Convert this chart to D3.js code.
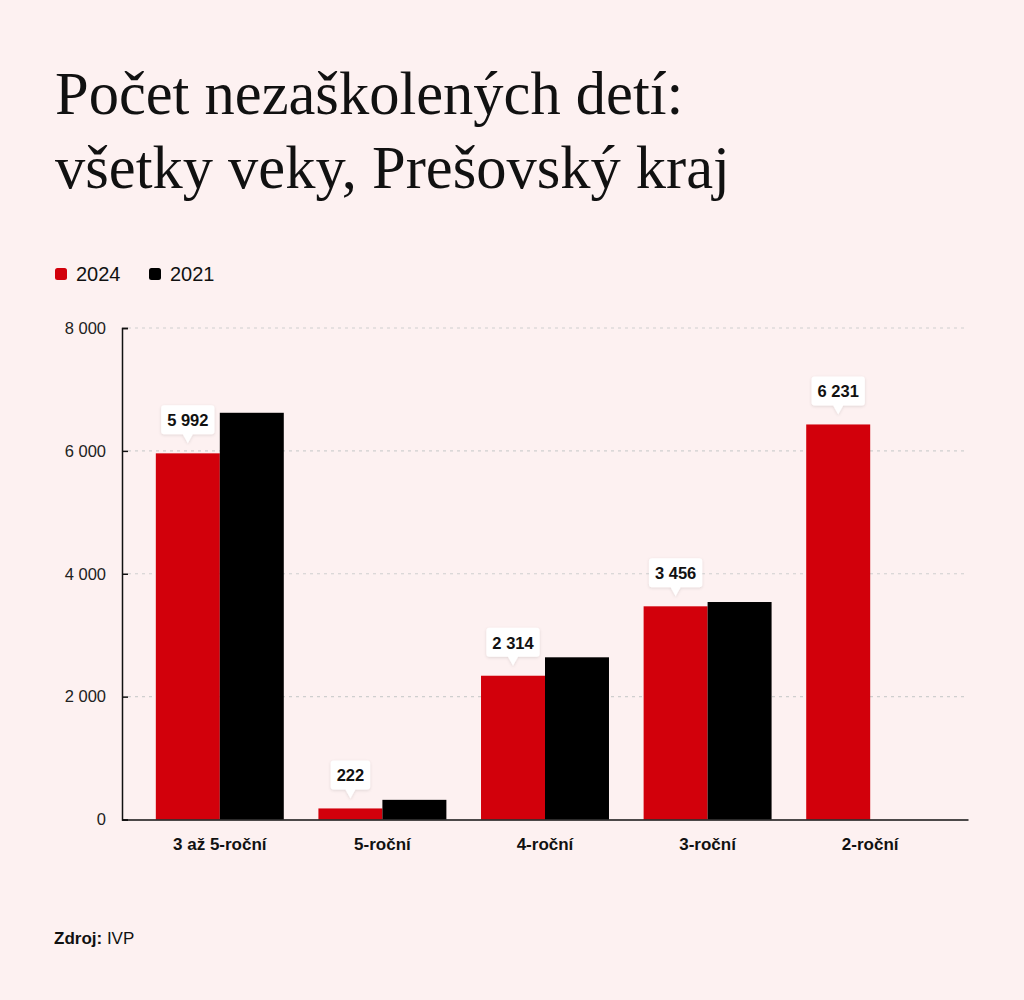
<!DOCTYPE html>
<html>
<head>
<meta charset="utf-8">
<script src="https://cdn.jsdelivr.net/npm/d3@7"></script>
<style>
  html, body { margin: 0; padding: 0; background: #fdf1f1; }
  svg { display: block; }
</style>
</head>
<body>
<svg id="chart" width="1024" height="1000"></svg>
<script>
const categories = ["3 až 5-roční", "5-roční", "4-roční", "3-roční", "2-roční"];
const seriesNames = ["2024", "2021"];
const values2024 = [5960, 180, 2340, 3470, 6430];
const values2021 = [6620, 320, 2640, 3540, null];
const labels2024 = ["5 992", "222", "2 314", "3 456", "6 231"];
const yTicks = [0, 2000, 4000, 6000, 8000];
const colors = { "2024": "#d2000b", "2021": "#000000" };

const svg = d3.select("#chart");
svg.append("rect").attr("width", 1024).attr("height", 1000).attr("fill", "#fdf1f1");

const defs = svg.append("defs");
const f = defs.append("filter").attr("id", "sh").attr("x", "-30%").attr("y", "-30%").attr("width", "160%").attr("height", "160%");
f.append("feDropShadow").attr("dx", 0).attr("dy", 1).attr("stdDeviation", 1.5).attr("flood-color", "#000").attr("flood-opacity", 0.12);

const sans = "'Helvetica Neue', Helvetica, Arial, 'Liberation Sans', sans-serif";

// Title
const title = svg.append("text").attr("font-family", "'Times New Roman', 'Liberation Serif', serif")
  .attr("font-size", 60.5).attr("fill", "#111");
title.append("tspan").attr("x", 55).attr("y", 114).text("Počet nezaškolených detí:");
title.append("tspan").attr("x", 55).attr("y", 188).text("všetky veky, Prešovský kraj");

// Legend
const legend = svg.append("g");
const legX = [55, 149];
seriesNames.forEach((s, i) => {
  legend.append("rect").attr("x", legX[i]).attr("y", 268).attr("width", 12).attr("height", 12)
    .attr("rx", 2.5).attr("fill", colors[s]);
  legend.append("text").attr("x", legX[i] + 21).attr("y", 281).attr("font-family", sans)
    .attr("font-size", 20).attr("fill", "#111").text(s);
});

// Scales
const x0 = d3.scaleBand().domain(categories).range([122, 968]).paddingInner(0.213).paddingOuter(0.208);
const x1 = d3.scaleBand().domain(seriesNames).range([0, x0.bandwidth()]);
const y = d3.scaleLinear().domain([0, 8000]).range([819.5, 328]);

// Grid
svg.append("g").selectAll("line").data(yTicks.filter(d => d > 0)).join("line")
  .attr("x1", 128).attr("x2", 968).attr("y1", d => y(d)).attr("y2", d => y(d))
  .attr("stroke", "#cfcfcf").attr("stroke-width", 1.2).attr("stroke-dasharray", "3,4");

// Bars
const data = categories.map((c, i) => ({ cat: c, vals: [
  { s: "2024", v: values2024[i] }, { s: "2021", v: values2021[i] }] }));

const groups = svg.append("g").selectAll("g").data(data).join("g")
  .attr("transform", d => `translate(${x0(d.cat)},0)`);
groups.selectAll("rect").data(d => d.vals.filter(v => v.v != null)).join("rect")
  .attr("x", d => x1(d.s)).attr("width", x1.bandwidth())
  .attr("y", d => y(d.v)).attr("height", d => y(0) - y(d.v))
  .attr("fill", d => colors[d.s]);

// Y axis
const yAxis = d3.axisLeft(y).tickValues(yTicks).tickSize(-6).tickSizeOuter(-6).tickPadding(16)
  .tickFormat(d => d3.format(",")(d).replace(/,/g, " "));
const ya = svg.append("g").attr("transform", "translate(122,0)").call(yAxis);
ya.select(".domain").attr("stroke", "#111").attr("stroke-width", 1.5);
ya.selectAll(".tick line").attr("stroke", "#111").attr("stroke-width", 1.5);
ya.selectAll(".tick text").attr("font-family", sans).attr("font-size", 16.5).attr("fill", "#222");

// X axis
const xAxis = d3.axisBottom(x0).tickSize(0).tickPadding(18);
const xa = svg.append("g").attr("transform", `translate(0,${y(0)})`).call(xAxis);
xa.select(".domain").attr("stroke", "#111").attr("stroke-width", 1.6);
xa.selectAll(".tick text").attr("font-family", sans).attr("font-size", 17)
  .attr("font-weight", "bold").attr("fill", "#111");

// Value labels for 2024
const lab = svg.append("g").selectAll("g").data(categories.map((c, i) => ({ c, v: values2024[i], t: labels2024[i] })))
  .join("g")
  .attr("transform", d => `translate(${x0(d.c) + x1("2024") + x1.bandwidth() / 2},${y(d.v) - 10})`);
lab.each(function(d) {
  const g = d3.select(this);
  const tmp = g.append("text").attr("font-family", sans).attr("font-size", 16.5).attr("font-weight", "bold")
    .attr("text-anchor", "middle").attr("x", 0).attr("y", -9 - 8).attr("fill", "#111").text(d.t);
  const w = tmp.node().getComputedTextLength() + 12;
  const pathD = `M${-w/2 + 3},-38 H${w/2 - 3} Q${w/2},-38 ${w/2},-35 V-12 Q${w/2},-9 ${w/2 - 3},-9 H5 L0,0 L-5,-9 H${-w/2 + 3} Q${-w/2},-9 ${-w/2},-12 V-35 Q${-w/2},-38 ${-w/2 + 3},-38 Z`;
  g.insert("path", "text").attr("d", pathD).attr("fill", "#fff").attr("filter", "url(#sh)");
});

// Source
const src = svg.append("text").attr("x", 54).attr("y", 944).attr("font-family", sans).attr("font-size", 17).attr("fill", "#111");
src.append("tspan").attr("font-weight", "bold").text("Zdroj:");
src.append("tspan").text(" IVP");
</script>
</body>
</html>
